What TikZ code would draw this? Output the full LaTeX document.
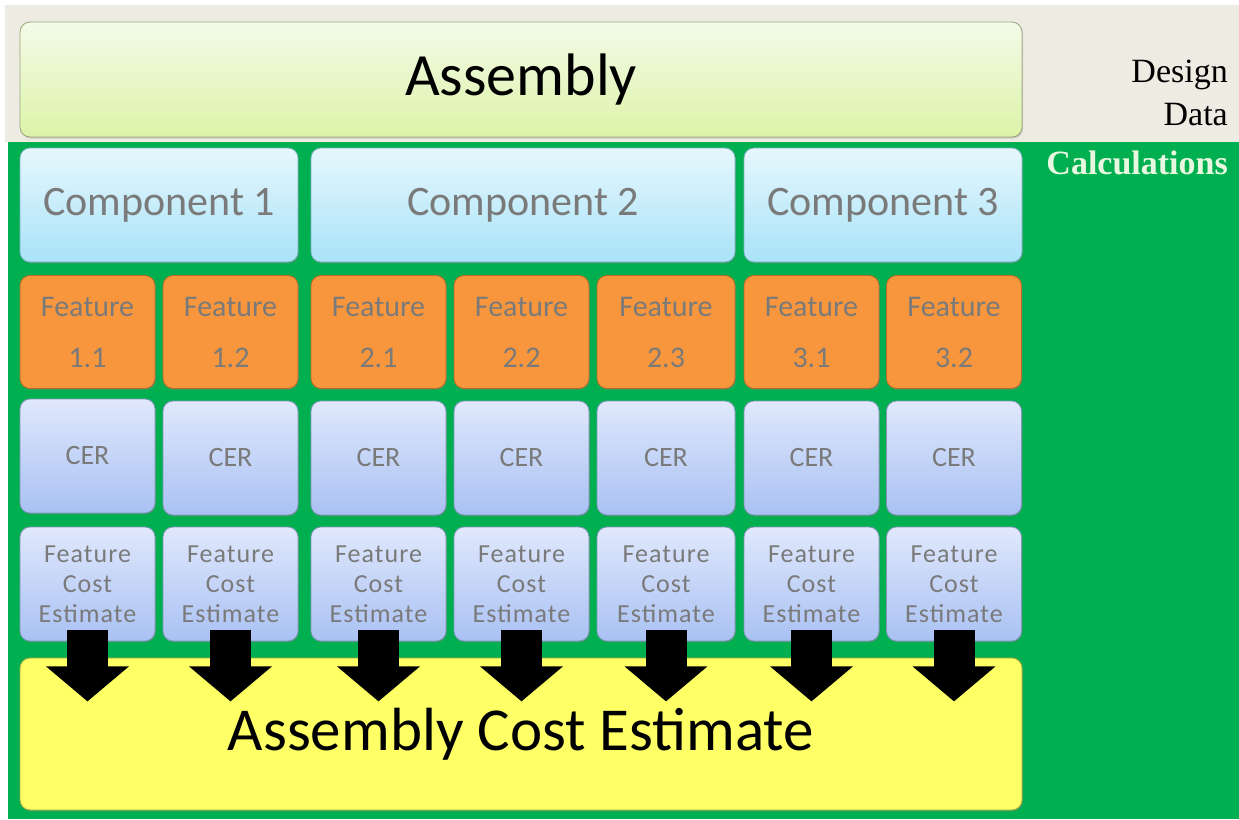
\documentclass[tikz,border=0pt]{standalone}
\usepackage{fontspec}
\setmainfont{Carlito}
\newfontfamily\serifface{Liberation Serif}
\usetikzlibrary{arrows.meta,shadows}
\definecolor{bggreen}{HTML}{00B050}
\definecolor{bgbeige}{HTML}{EEEBE2}
\definecolor{asmtop}{HTML}{F3FBE8}
\definecolor{asmbot}{HTML}{DDF3A8}
\definecolor{asmline}{HTML}{9AA67A}
\definecolor{comptop}{HTML}{E6F7FD}
\definecolor{compbot}{HTML}{A9E3F8}
\definecolor{compline}{HTML}{7FAFC4}
\definecolor{featfill}{HTML}{F7963C}
\definecolor{featline}{HTML}{B86A28}
\definecolor{certop}{HTML}{E0E8FC}
\definecolor{cerbot}{HTML}{A9C1F3}
\definecolor{cerline}{HTML}{8494BC}
\definecolor{acefill}{HTML}{FFFF66}
\definecolor{aceline}{HTML}{A8A840}
\definecolor{txtgray}{HTML}{7A7A7A}
\definecolor{calctxt}{HTML}{E8F8E0}
\begin{document}
\begin{tikzpicture}[x=1pt,y=-1pt,
  boxbase/.style={rounded corners=10pt, inner sep=0pt, align=center, line width=0.8pt,
    drop shadow={opacity=0.35, shadow xshift=1pt, shadow yshift=-1.5pt}},
  asmbox/.style={boxbase, draw=asmline, top color=asmtop, bottom color=asmbot,
    minimum width=1002pt, minimum height=115pt, font=\fontsize{60}{60}\selectfont},
  compbox/.style={boxbase, draw=compline, top color=comptop, bottom color=compbot,
    minimum height=114pt, text=txtgray, font=\fontsize{42}{42}\selectfont},
  featbox/.style={boxbase, draw=featline, fill=featfill, minimum width=135pt,
    minimum height=113pt, text=txtgray, font=\fontsize{30}{51}\selectfont},
  cerbox/.style={boxbase, draw=cerline, top color=certop, bottom color=cerbot,
    minimum width=135pt, minimum height=114pt, text=txtgray, font=\fontsize{28}{28}\selectfont},
  fcebox/.style={boxbase, draw=cerline, top color=certop, bottom color=cerbot,
    minimum width=135pt, minimum height=114pt, text=txtgray,
    font=\addfontfeatures{LetterSpace=4}\fontsize{26}{30}\selectfont},
  acebox/.style={boxbase, draw=aceline, fill=acefill,
    minimum width=1002pt, minimum height=152pt, font=\fontsize{61}{61}\selectfont},
  blockarrow/.style={line width=41pt, draw=black, -{Triangle[width=81pt,length=35pt]}},
  sidetext/.style={anchor=base east, inner sep=0pt, font=\serifface\fontsize{34}{34}\selectfont}
]
\useasboundingbox (0,0) rectangle (1239,819);
\fill[white] (0,0) rectangle (1239,819);
\fill[bgbeige] (5,5) rectangle (1239,142);
\fill[bggreen] (8,142) rectangle (1239,819);

% Assembly
\node[asmbox] (asm) at (521,79.5) {Assembly};
\node[sidetext] (dd1) at (1228,82) {Design};
\node[sidetext] (dd2) at (1228,125) {Data};
\node[sidetext, text=calctxt, font=\serifface\bfseries\fontsize{34}{34}\selectfont] (calc) at (1228,174) {Calculations};

% Components
\node[compbox, minimum width=278pt] (c1) at (159,205) {Component 1};
\node[compbox, minimum width=424pt] (c2) at (523,205) {Component 2};
\node[compbox, minimum width=278pt] (c3) at (883,205) {Component 3};

% Features
\node[featbox] (f1) at (87.5,332) {Feature\\1.1};
\node[featbox] (f2) at (230.5,332) {Feature\\1.2};
\node[featbox] (f3) at (378.5,332) {Feature\\2.1};
\node[featbox] (f4) at (521.5,332) {Feature\\2.2};
\node[featbox, minimum width=138pt] (f5) at (666,332) {Feature\\2.3};
\node[featbox] (f6) at (811.5,332) {Feature\\3.1};
\node[featbox] (f7) at (954,332) {Feature\\3.2};

% CER
\node[cerbox] (r1) at (87.5,456) {CER};
\node[cerbox] (r2) at (230.5,458) {CER};
\node[cerbox] (r3) at (378.5,458) {CER};
\node[cerbox] (r4) at (521.5,458) {CER};
\node[cerbox, minimum width=138pt] (r5) at (666,458) {CER};
\node[cerbox] (r6) at (811.5,458) {CER};
\node[cerbox] (r7) at (954,458) {CER};

% Feature cost estimates
\node[fcebox] (e1) at (87.5,584) {Feature\\Cost\\Estimate};
\node[fcebox] (e2) at (230.5,584) {Feature\\Cost\\Estimate};
\node[fcebox] (e3) at (378.5,584) {Feature\\Cost\\Estimate};
\node[fcebox] (e4) at (521.5,584) {Feature\\Cost\\Estimate};
\node[fcebox, minimum width=138pt] (e5) at (666,584) {Feature\\Cost\\Estimate};
\node[fcebox] (e6) at (811.5,584) {Feature\\Cost\\Estimate};
\node[fcebox] (e7) at (954,584) {Feature\\Cost\\Estimate};

% Assembly cost estimate
\node[acebox] (ace) at (521,734) {Assembly Cost Estimate};

% Arrows
\foreach \i in {1,...,7}{
  \draw[blockarrow] ([yshift=11pt]e\i.south) -- ([yshift=-60pt]e\i.south);
}
\end{tikzpicture}
\end{document}
